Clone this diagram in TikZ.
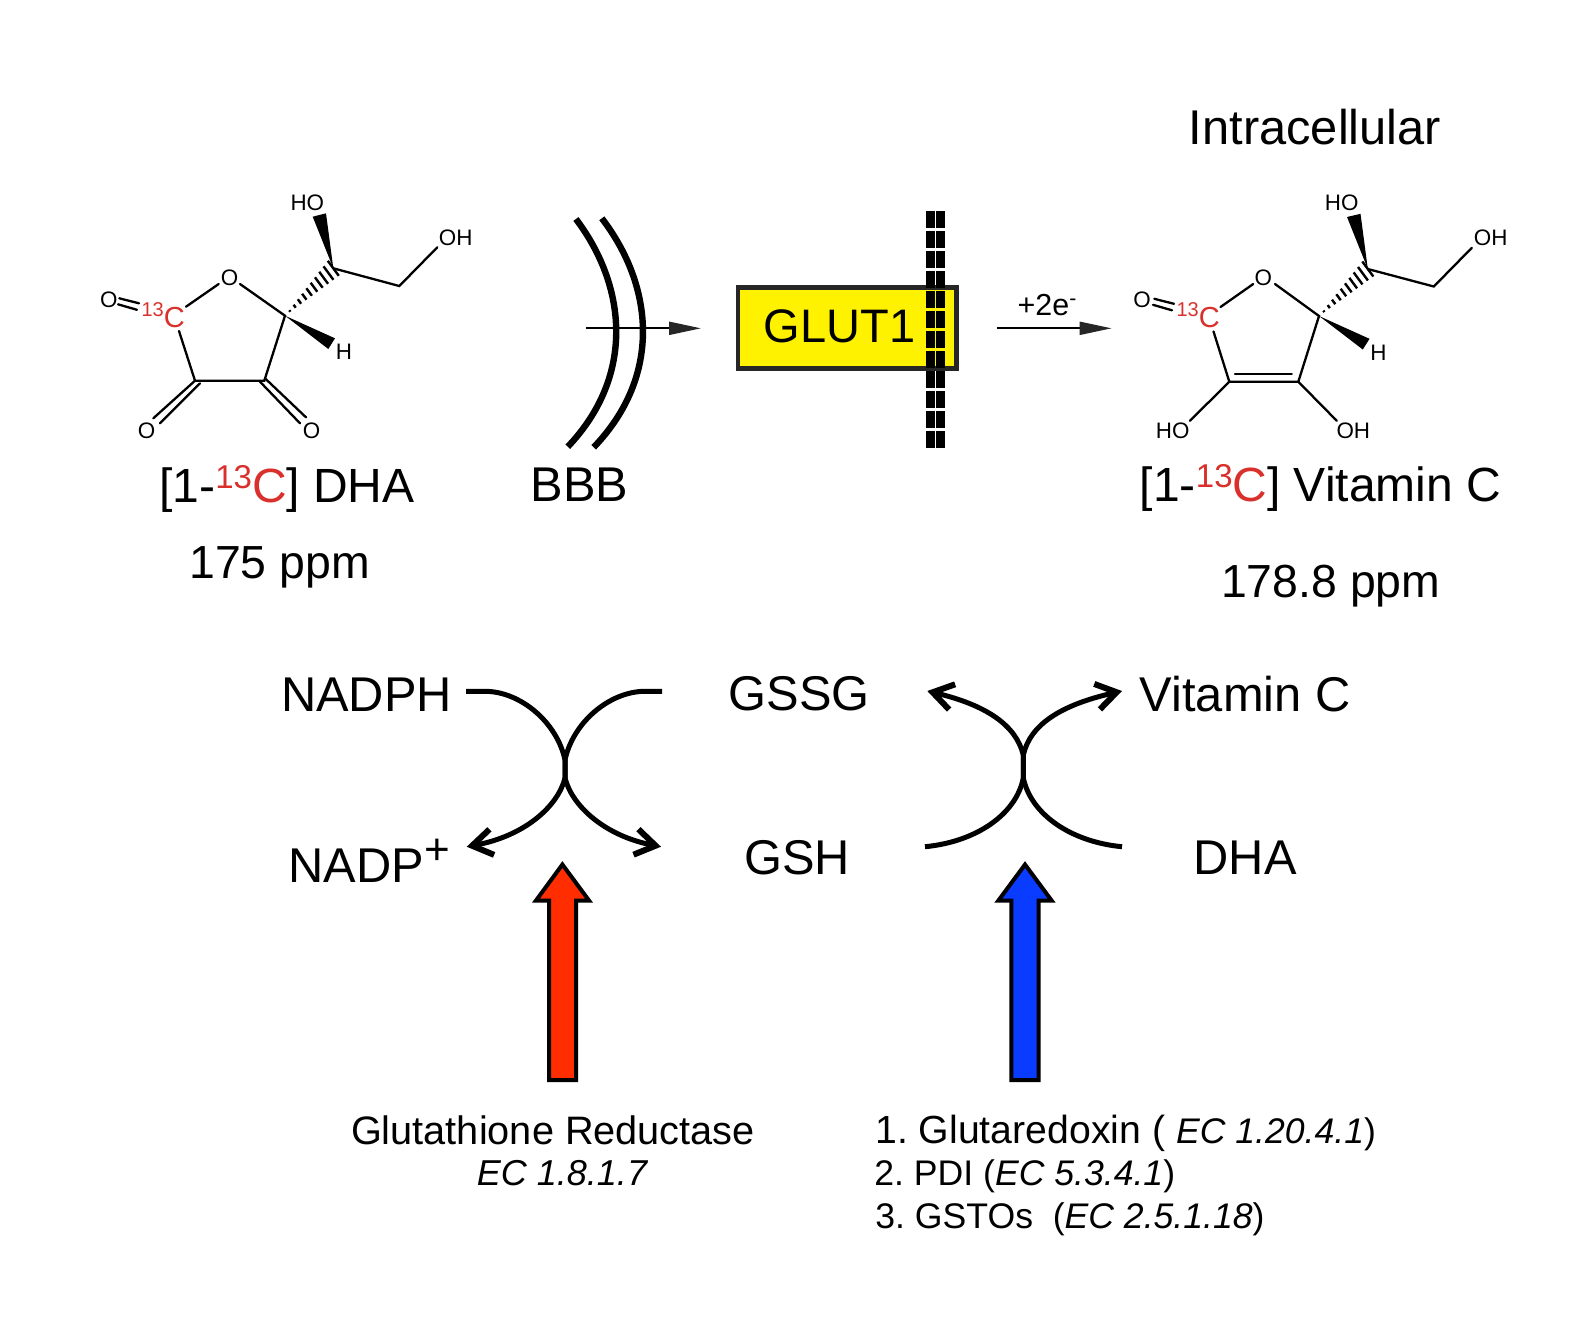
\documentclass[tikz,border=0pt]{standalone}
\usepackage{fontspec}
\setmainfont{Liberation Sans}
\usetikzlibrary{arrows.meta,calc}
\definecolor{carbonred}{HTML}{D9302C}
\definecolor{glutyellow}{HTML}{FFF200}
\definecolor{enzred}{HTML}{FF2D00}
\definecolor{enzblue}{HTML}{0A3CFF}
\newcommand{\rc}[1]{\textcolor{carbonred}{#1}}
\newcommand{\isotope}{\smash{\raisebox{0.3em}{\fontsize{16.5}{18}\selectfont\rc{13}}}\rc{C}}
\frenchspacing
\tikzset{
  x=0.5pt,y=-0.5pt,
  atom/.style={inner sep=0pt,font=\fontsize{11.2}{13}\selectfont},
  bond/.style={line width=1.15pt,line cap=round},
  big/.style={inner sep=0pt,font=\fontsize{24.4}{28}\selectfont},
  ppm/.style={inner sep=0pt,font=\fontsize{23.2}{28}\selectfont},
  en/.style={inner sep=0pt,anchor=west,font=\fontsize{17.8}{22}\selectfont},
  enl/.style={inner sep=0pt,anchor=west,font=\fontsize{19.6}{24}\selectfont},
  arc/.style={line width=3.2pt},
  thin arrow/.style={line width=1pt,-{Triangle[length=16pt,width=6.5pt,color=black!85]}},
  swaph/.style={line width=2.5pt,-{Straight Barb[length=10pt,width=13pt,line width=3pt]}},
  blockarrow/.style={draw=black,line width=2pt,line join=miter},
  dashcell/.style={fill=black},
}
\begin{document}
\begin{tikzpicture}
\useasboundingbox (0,0) rectangle (1588,1335);
% --- DHA molecule
\node[atom] (o1) at (229.5,277.3) {O};
\node[atom,font=\fontsize{14.5}{16}\selectfont] (c1) at (174.3,317.5) {\rc{C}};
\node[atom,font=\fontsize{10}{11}\selectfont] (n1) at (152.7,309.3) {\rc{13}};
\node[atom] (oa) at (108.8,299.8) {O};
\node[atom] (ob) at (146.7,430.7) {O};
\node[atom] (oc) at (311.7,430.7) {O};
\node[atom] (ho1) at (307.3,202.3) {HO};
\node[atom] (oh1) at (455.7,238) {OH};
\node[atom] (h1) at (344,351.7) {H};
\coordinate (a4) at (285,315.7);
\coordinate (a3) at (264.3,380.7);
\coordinate (a2) at (195,380.7);
\coordinate (a5) at (333.3,268.3);
\coordinate (a6) at (399.3,286);
\draw[bond] (186,306.7) -- (218.7,284);
\draw[bond] (240,284) -- (a4) -- (a3) -- (a2) -- (179,331);
\draw[bond] (119.3,298.3) -- (139,303.3);
\draw[bond] (118,304.3) -- (137,309.8);
\draw[bond] (a2) -- (153.3,418.3);
\draw[bond] (200,383.3) -- (160,423.3);
\draw[bond] (260,381.7) -- (300,423.3);
\draw[bond] (265,378.3) -- (306,417.3);
\draw[bond] (a5) -- (a6) -- (437.3,247.3);
\fill (a5) -- (312.7,216.7) -- (326,213.3) -- cycle;
\fill (a4) -- (335,338.3) -- (328.3,349) -- cycle;
\foreach \t in {0.1,0.2,...,1.0}
  \draw[line width=1.2pt] ($(a4)!\t!(a5)+(\t*5.5,\t*7.5)$) -- ($(a4)!\t!(a5)-(\t*5.5,\t*7.5)$);
% --- Vitamin C molecule
\node[atom] (o2) at (1263.3,277.3) {O};
\node[atom,font=\fontsize{14.5}{16}\selectfont] (c2) at (1209.3,318) {\rc{C}};
\node[atom,font=\fontsize{10}{11}\selectfont] (n2) at (1187.7,309.8) {\rc{13}};
\node[atom] (od) at (1142,299.3) {O};
\node[atom] (ho3) at (1172.7,430.7) {HO};
\node[atom] (oh3) at (1353.3,430.7) {OH};
\node[atom] (ho2) at (1341.7,202.8) {HO};
\node[atom] (oh2) at (1490.7,238) {OH};
\node[atom] (h2) at (1378.5,352.3) {H};
\coordinate (b4) at (1319,316);
\coordinate (b3) at (1298.3,381.7);
\coordinate (b2) at (1229.3,381.7);
\coordinate (b5) at (1367.8,269);
\coordinate (b6) at (1433.8,286.5);
\draw[bond] (1220.5,307) -- (1253.2,284);
\draw[bond] (1275,284) -- (b4) -- (b3) -- (b2) -- (1213.5,331.5);
\draw[bond] (1235,374) -- (1291.7,374);
\draw[bond] (1154.3,298.8) -- (1174,303.8);
\draw[bond] (1153,304.8) -- (1172,310.3);
\draw[bond] (b2) -- (1190,420.7);
\draw[bond] (b3) -- (1336.7,420.7);
\draw[bond] (b5) -- (b6) -- (1471.8,247.8);
\fill (b5) -- (1347,217) -- (1360.5,213.8) -- cycle;
\fill (b4) -- (1369.5,338.8) -- (1362.8,349.5) -- cycle;
\foreach \t in {0.1,0.2,...,1.0}
  \draw[line width=1.2pt] ($(b4)!\t!(b5)+(\t*5.5,\t*7.5)$) -- ($(b4)!\t!(b5)-(\t*5.5,\t*7.5)$);
% --- BBB arcs
\coordinate (arcin) at (586.3,328.3);
\coordinate (arcout) at (701,328.3);
\draw[arc] (575.9,219) .. controls (626,285) and (636,375) .. (567.8,446.7);
\draw[arc] (601.8,218.3) .. controls (653,285) and (663,375) .. (593.7,447.3);
\draw[thin arrow] (arcin) -- (arcout);
% --- GLUT1
\node[draw=black!85,line width=2.35pt,fill=glutyellow,minimum width=109.4pt,minimum height=40.5pt,inner sep=0pt,anchor=north west] (glut) at (735.5,285) {};
\node[inner sep=0pt,font=\fontsize{23.5}{26}\selectfont] (glutl) at (839.6,326) {GLUT1};
\foreach \k in {0,...,11}{
  \fill[dashcell] (926.3,211+\k*20) rectangle (934.6,228+\k*20);
  \fill[dashcell] (936.4,211+\k*20) rectangle (944.8,228+\k*20);
}
\coordinate (ein) at (997,328.3);
\coordinate (eout) at (1111.6,328.3);
\draw[thin arrow] (ein) -- (eout);
\node[atom,font=\fontsize{15.2}{17}\selectfont] (e) at (1047.5,305.5) {+2e\textsuperscript{-}};
% --- texts
\node[big] (intra) at (1315,126.6) {Intracellular};
\node[big,font=\fontsize{24}{28}\selectfont] (dha) at (287,490) {[1-\isotope] DHA};
\node[big] (bbb) at (579.3,485) {BBB};
\node[ppm] (ppm1) at (279.5,567) {175 ppm};
\node[big,font=\fontsize{24}{28}\selectfont] (vitc) at (1320.5,489) {[1-\isotope] Vitamin C};
\node[ppm] (ppm2) at (1330.8,586.4) {178.8 ppm};
\node[big] (nadph) at (366.6,695) {NADPH};
\node[big] (gssg) at (799,694) {GSSG};
\node[big] (vc) at (1245.2,694) {Vitamin C};
\node[big] (nadp) at (369.7,861) {NADP\textsuperscript{\fontsize{22}{22}\selectfont +}};
\node[big] (gsh) at (797,858) {GSH};
\node[big] (dha2) at (1245.2,858) {DHA};
% --- swap arrows left
\coordinate (l1) at (466,691.3);
\coordinate (l2) at (662,691.3);
\coordinate (l3) at (661,846.7);
\coordinate (l4) at (466.7,846.7);
\coordinate (lc) at (565,760);
\coordinate (ld) at (565,778);
\draw[swaph] (l1) -- (485,691.3) .. controls (520,691.3) and (557,722) .. (lc) -- (ld) .. controls (572,806) and (605,836) .. (l3);
\draw[swaph] (l2) -- (645,691.3) .. controls (610,691.3) and (573,722) .. (lc) -- (ld) .. controls (558,806) and (525,836) .. (l4);
% --- swap arrows right
\coordinate (r1) at (925,846.7);
\coordinate (r2) at (1122,846.7);
\coordinate (r3) at (927.3,691);
\coordinate (r4) at (1122,691);
\coordinate (rc) at (1023.3,755);
\coordinate (rd) at (1023.3,778);
\draw[swaph] (r1) .. controls (975,842) and (1016,815) .. (rd) -- (rc) .. controls (1030,725) and (1060,705) .. (r4);
\draw[swaph] (r2) .. controls (1072,842) and (1031,815) .. (rd) -- (rc) .. controls (1016,725) and (986,705) .. (r3);
% --- enzyme arrows
\draw[blockarrow,fill=enzred] (562.4,864.5) -- (589,900.5) -- (576,900.5) -- (576,1080) -- (549,1080) -- (549,900.5) -- (536,900.5) -- cycle;
\draw[blockarrow,fill=enzblue] (1025,864.5) -- (1051.6,900.5) -- (1038.6,900.5) -- (1038.6,1080) -- (1011.4,1080) -- (1011.4,900.5) -- (998.4,900.5) -- cycle;
% --- enzyme labels
\node[enl,anchor=center,font=\fontsize{19.85}{24}\selectfont] (gr) at (553,1130) {Glutathione Reductase};
\node[en,anchor=center,font=\fontsize{18}{22}\selectfont] (ec1) at (562,1172.8) {\itshape EC 1.8.1.7};
\node[enl] (g1) at (875,1133) {1. Glutaredoxin ( \fontsize{17.8}{22}\selectfont\itshape EC 1.20.4.1\upshape)};
\node[en] (g2) at (874,1176) {2. PDI (\itshape EC 5.3.4.1\upshape)};
\node[en] (g3) at (875,1219) {3. GSTOs\ \ (\itshape EC 2.5.1.18\upshape)};
\end{tikzpicture}
\end{document}
